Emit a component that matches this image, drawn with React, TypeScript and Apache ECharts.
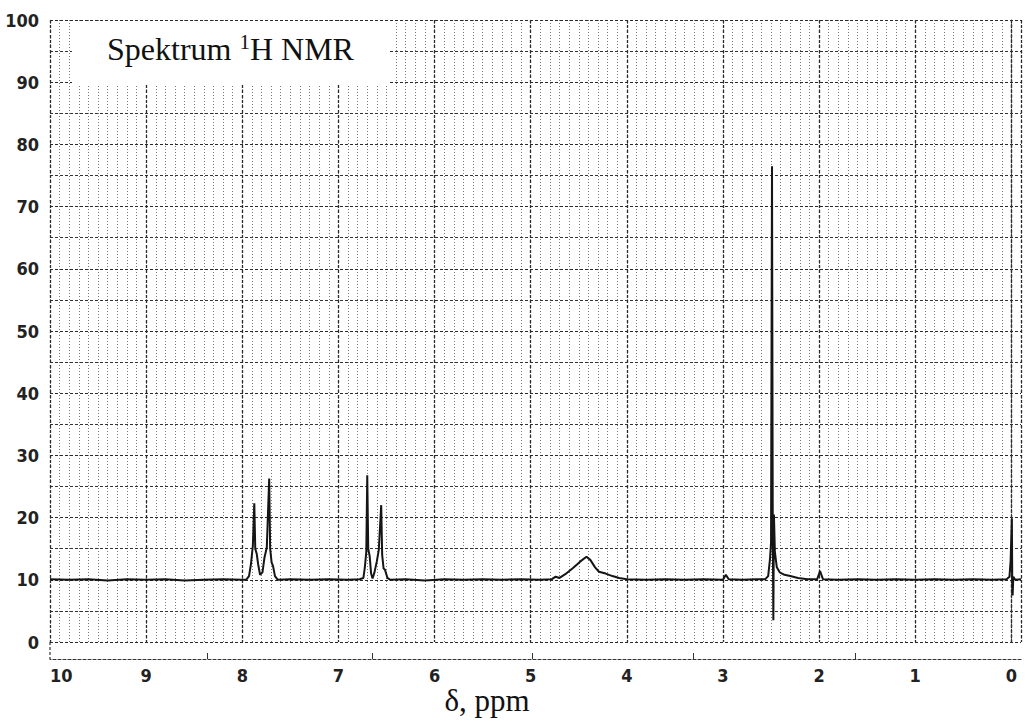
import React, { useEffect, useRef } from "react";
import * as echarts from "echarts";

// ---- data (chemical shift ppm, intensity %) ----
const titleMain = "Spektrum ";
const titleSup = "1";
const titleRest = "H NMR";
const xAxisTitle = "δ, ppm";

const ppmMin = -0.1;
const ppmMax = 10;
const intensityMin = 0;
const intensityMax = 100;

const baselineA = [
  [10.0, 10.1], [9.8, 10.0], [9.6, 10.1], [9.4, 9.9], [9.2, 10.1], [9.0, 10.0],
  [8.8, 10.1], [8.6, 9.9], [8.4, 10.0], [8.2, 10.1], [8.0, 10.0], [7.96, 10.0],
];
const aromaticA = [
  [7.93, 10.6], [7.91, 12.5], [7.89, 15.5], [7.875, 22.3], [7.865, 15.0], [7.85, 14.2],
  [7.835, 12.5], [7.815, 10.8], [7.79, 11.2], [7.77, 13.5], [7.745, 15.2], [7.72, 26.3],
  [7.71, 15.0], [7.695, 12.8], [7.68, 12.2], [7.66, 10.6], [7.63, 10.0],
];
const baselineB = [
  [7.5, 10.1], [7.3, 10.0], [7.1, 10.1], [6.9, 10.0], [6.78, 10.1],
];
const aromaticB = [
  [6.74, 10.3], [6.725, 12.0], [6.71, 14.5], [6.70, 26.8], [6.69, 15.0], [6.675, 13.8],
  [6.66, 11.0], [6.645, 10.2], [6.625, 11.2], [6.60, 13.0], [6.58, 14.8], [6.555, 22.0],
  [6.545, 14.0], [6.53, 11.8], [6.515, 11.6], [6.49, 10.3], [6.46, 10.0],
];
const baselineC = [
  [6.3, 10.1], [6.1, 9.9], [5.9, 10.1], [5.7, 10.0], [5.5, 10.1], [5.3, 10.0],
  [5.1, 10.1], [4.9, 10.0], [4.78, 10.1],
];
const broadPeak = [
  [4.74, 10.5], [4.70, 10.3], [4.64, 10.9], [4.56, 11.9], [4.48, 13.0], [4.42, 13.7],
  [4.38, 13.2], [4.33, 12.0], [4.29, 11.3], [4.22, 11.0], [4.15, 10.6], [4.08, 10.3], [4.0, 10.1],
];
const baselineD = [
  [3.8, 10.0], [3.6, 10.1], [3.4, 10.0], [3.2, 10.1], [3.0, 10.0], [2.97, 10.8],
  [2.94, 10.1], [2.8, 10.0], [2.65, 10.1], [2.56, 10.1],
];
const dmsoPeak = [
  [2.53, 10.6], [2.51, 13.5], [2.50, 16.0], [2.49, 76.5], [2.482, 18.0], [2.476, 3.5],
  [2.47, 20.5], [2.46, 14.5], [2.44, 12.0], [2.41, 11.2], [2.36, 10.8], [2.30, 10.6],
  [2.22, 10.3], [2.12, 10.1],
];
const smallPeak = [[2.02, 10.1], [1.99, 11.4], [1.96, 10.1]];
const baselineE = [
  [1.8, 10.0], [1.6, 10.1], [1.4, 10.0], [1.2, 10.1], [1.0, 10.0], [0.8, 10.1],
  [0.6, 10.0], [0.4, 10.1], [0.2, 10.0], [0.05, 10.1],
];
const tmsPeak = [
  [0.02, 10.5], [0.008, 13.0], [-0.005, 19.9], [-0.009, 10.0], [-0.013, 7.5],
  [-0.02, 10.5], [-0.04, 10.0], [-0.1, 10.1],
];
const bottomAxisMarks = [8.36, 6.65, 4.98, 3.31, 1.62];

const spectrum = [
  ...baselineA, ...aromaticA, ...baselineB, ...aromaticB, ...baselineC,
  ...broadPeak, ...baselineD, ...dmsoPeak, ...smallPeak, ...baselineE, ...tmsPeak,
];

const narrow = "'Liberation Sans Narrow', 'DejaVu Sans Condensed', 'Liberation Sans', sans-serif";
const serif = "'Liberation Serif', 'Times New Roman', serif";

export default function App() {
  const ref = useRef<HTMLDivElement>(null);
  useEffect(() => {
    document.body.style.margin = "0";
    if (!ref.current) return;
    const chart = echarts.init(ref.current, null, { renderer: "svg" });
    const gridLeft = 50, gridRight = 5, gridTop = 20, gridBottom = 84;
    const labelStyle = {
      fontFamily: narrow,
      fontWeight: "bold" as const,
      fontSize: 18,
      color: "#222",
    };
    chart.setOption({
      animation: false,
      backgroundColor: "#fff",
      grid: { left: gridLeft, right: gridRight, top: gridTop, bottom: gridBottom, containLabel: false },
      xAxis: [
        {
          type: "value",
          min: ppmMin,
          max: ppmMax,
          splitNumber: 10,
          inverse: true,
          position: "bottom",
          offset: 17,
          z: 3,
          axisLine: { show: true, onZero: false, lineStyle: { color: "#333", width: 1.2, type: [3, 2] } },
          axisTick: { show: false },
          axisLabel: {
            ...labelStyle,
            margin: 7,
            alignMaxLabel: "left",
            formatter: (v: number) => (Math.abs(v - Math.round(v)) < 1e-6 ? String(Math.abs(Math.round(v))) : ""),
          },
          splitLine: { show: true, lineStyle: { color: "#2a2a2a", width: 1.3, type: [3, 2] } },
        },
        {
          type: "value",
          min: ppmMin,
          max: ppmMax,
          interval: 0.1,
          inverse: true,
          position: "bottom",
          z: 1,
          axisLine: { show: false },
          axisTick: { show: false },
          axisLabel: { show: false },
          splitLine: { show: true, lineStyle: { color: "#7a7a7a", width: 1, type: [1, 2] } },
        },
        {
          type: "value",
          min: ppmMin,
          max: ppmMax,
          inverse: true,
          position: "bottom",
          offset: 17,
          z: 3,
          axisLine: { show: false },
          axisLabel: { show: false },
          splitLine: { show: false },
          axisTick: {
            show: true,
            inside: true,
            length: 6,
            customValues: bottomAxisMarks,
            lineStyle: { color: "#333", width: 1 },
          },
        },
      ],
      yAxis: {
        type: "value",
        min: intensityMin,
        max: intensityMax,
        interval: 10,
        z: 3,
        axisLine: { show: true, lineStyle: { color: "#333", width: 1.2, type: [3, 2] } },
        axisTick: { show: false },
        axisLabel: { ...labelStyle, margin: 11 },
        splitLine: { show: true, lineStyle: { color: "#2a2a2a", width: 1.2, type: [3, 2] } },
        minorTick: { show: false, splitNumber: 2 },
        minorSplitLine: { show: true, lineStyle: { color: "#333", width: 1.1, type: [3, 2] } },
      },
      series: [
        {
          type: "line",
          xAxisIndex: 0,
          data: spectrum,
          showSymbol: false,
          symbol: "none",
          z: 5,
          clip: false,
          lineStyle: { color: "#151515", width: 2 },
        },
      ],
      graphic: [
        { type: "line", z: 3, shape: { x1: gridLeft, y1: 726 - gridBottom, x2: gridLeft, y2: 726 - gridBottom + 17 },
          style: { stroke: "#333", lineWidth: 1.2, lineDash: [3, 2] } },
        { type: "rect", z: 10, shape: { x: 72, y: 21, width: 316, height: 64 }, style: { fill: "#fff" } },
        {
          type: "text",
          z: 11,
          x: 107,
          y: 31,
          style: {
            text: `{a|${titleMain}}{s|${titleSup}}{a|${titleRest}}`,
            verticalAlign: "top",
            rich: {
              a: { fontFamily: serif, fontSize: 32, lineHeight: 36, fill: "#111" },
              s: { fontFamily: serif, fontSize: 21, lineHeight: 21, verticalAlign: "top", fill: "#111" },
            },
          },
        },
        {
          type: "text",
          z: 11,
          x: 487,
          y: 700,
          style: {
            text: xAxisTitle,
            fontFamily: serif,
            fontSize: 31,
            fill: "#111",
            align: "center",
            verticalAlign: "middle",
          },
        },
      ],
    });
    return () => chart.dispose();
  }, []);
  return <div ref={ref} style={{ width: 1026, height: 726 }} />;
}
